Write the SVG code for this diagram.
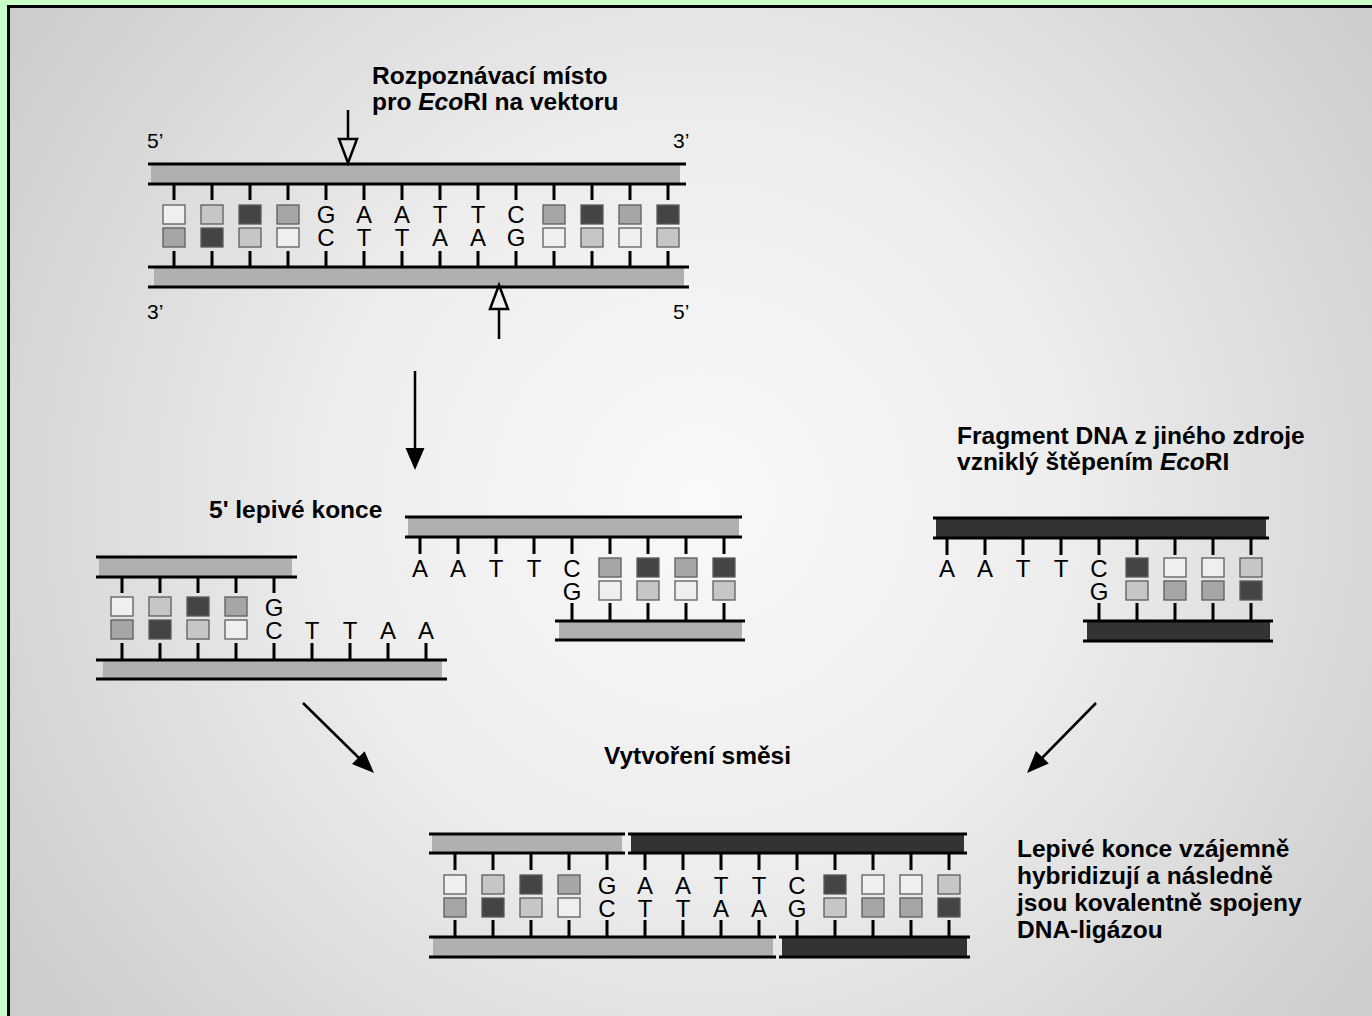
<svg xmlns="http://www.w3.org/2000/svg" width="1372" height="1016" viewBox="0 0 1372 1016">
  <defs>
    <radialGradient id="bg" gradientUnits="userSpaceOnUse" cx="700" cy="500" r="820">
      <stop offset="0" stop-color="#f9f9f9"/>
      <stop offset="0.45" stop-color="#ededed"/>
      <stop offset="1" stop-color="#cdcdcd"/>
    </radialGradient>
    <style>
      .ln { stroke: #000; stroke-width: 3; fill: none; }
      .tk { stroke: #000; stroke-width: 3; fill: none; }
      .bl { fill: #b0b0b0; }
      .bd { fill: #333333; }
      .sq { stroke: #5c5c5c; stroke-width: 1.3; }
      .w { fill: #efefef; }
      .l { fill: #c6c6c6; }
      .m { fill: #a6a6a6; }
      .d { fill: #444444; }
      .nt { font-family: "Liberation Sans", Arial, sans-serif; font-size: 24px; text-anchor: middle; fill: #000; }
      .end { font-family: "Liberation Sans", Arial, sans-serif; font-size: 21px; fill: #000; }
      .lbl { font-family: "Liberation Sans", Arial, sans-serif; font-size: 24.5px; font-weight: bold; fill: #000; }
      .arr { stroke: #000; stroke-width: 2.5; fill: none; }
      .head { fill: #000; stroke: none; }
      .hollow { stroke: #000; stroke-width: 2.5; fill: none; stroke-linejoin: miter; }
    </style>
  </defs>

  <!-- page background and frame -->
  <rect x="0" y="0" width="1372" height="1016" fill="#c8fec8"/>
  <rect x="8.5" y="6.5" width="1400" height="1050" fill="url(#bg)" stroke="#000" stroke-width="3"/>

  <!-- labels -->
  <g id="labels">
    <text class="lbl" x="372" y="84">Rozpoznávací místo</text>
    <text class="lbl" x="372" y="110">pro <tspan font-style="italic">Eco</tspan>RI na vektoru</text>
    <text class="lbl" x="209" y="518">5' lepivé konce</text>
    <text class="lbl" x="957" y="444">Fragment DNA z jiného zdroje</text>
    <text class="lbl" x="957" y="470">vzniklý štěpením <tspan font-style="italic">Eco</tspan>RI</text>
    <text class="lbl" x="604" y="764">Vytvoření směsi</text>
    <text class="lbl" x="1017" y="857">Lepivé konce vzájemně</text>
    <text class="lbl" x="1017" y="884">hybridizují a následně</text>
    <text class="lbl" x="1017" y="911">jsou kovalentně spojeny</text>
    <text class="lbl" x="1017" y="938">DNA-ligázou</text>
  </g>

  <!-- vector DNA with the EcoRI site -->
  <g id="vector">
    <text class="end" x="147" y="148">5’</text>
    <text class="end" x="673" y="148">3’</text>
    <text class="end" x="147" y="319">3’</text>
    <text class="end" x="673" y="319">5’</text>
    <rect class="bl" x="151" y="165" width="529" height="18"/>
    <path class="ln" d="M148,164H686M148,184H686"/>
    <rect class="bl" x="154" y="268" width="530" height="18"/>
    <path class="ln" d="M148,267H689M148,287H689"/>
    <path class="tk" d="M174,184V200M212,184V200M250,184V200M288,184V200M326,184V200M364,184V200M402,184V200M440,184V200M478,184V200M516,184V200M554,184V200M592,184V200M630,184V200M668,184V200"/>
    <path class="tk" d="M174,251V267M212,251V267M250,251V267M288,251V267M326,251V267M364,251V267M402,251V267M440,251V267M478,251V267M516,251V267M554,251V267M592,251V267M630,251V267M668,251V267"/>
    <rect class="sq w" x="163" y="205" width="22" height="19"/>
    <rect class="sq l" x="201" y="205" width="22" height="19"/>
    <rect class="sq d" x="239" y="205" width="22" height="19"/>
    <rect class="sq m" x="277" y="205" width="22" height="19"/>
    <rect class="sq m" x="543" y="205" width="22" height="19"/>
    <rect class="sq d" x="581" y="205" width="22" height="19"/>
    <rect class="sq m" x="619" y="205" width="22" height="19"/>
    <rect class="sq d" x="657" y="205" width="22" height="19"/>
    <rect class="sq m" x="163" y="228" width="22" height="19"/>
    <rect class="sq d" x="201" y="228" width="22" height="19"/>
    <rect class="sq l" x="239" y="228" width="22" height="19"/>
    <rect class="sq w" x="277" y="228" width="22" height="19"/>
    <rect class="sq w" x="543" y="228" width="22" height="19"/>
    <rect class="sq l" x="581" y="228" width="22" height="19"/>
    <rect class="sq w" x="619" y="228" width="22" height="19"/>
    <rect class="sq l" x="657" y="228" width="22" height="19"/>
    <text class="nt" x="326" y="223">G</text>
    <text class="nt" x="364" y="223">A</text>
    <text class="nt" x="402" y="223">A</text>
    <text class="nt" x="440" y="223">T</text>
    <text class="nt" x="478" y="223">T</text>
    <text class="nt" x="516" y="223">C</text>
    <text class="nt" x="326" y="246">C</text>
    <text class="nt" x="364" y="246">T</text>
    <text class="nt" x="402" y="246">T</text>
    <text class="nt" x="440" y="246">A</text>
    <text class="nt" x="478" y="246">A</text>
    <text class="nt" x="516" y="246">G</text>
  </g>

  <!-- left piece of the cut vector -->
  <g id="vector-left">
    <rect class="bl" x="99" y="558" width="193" height="18"/>
    <path class="ln" d="M96,557H297M96,577H297"/>
    <rect class="bl" x="103" y="661" width="339" height="17"/>
    <path class="ln" d="M96,660H447M96,679H447"/>
    <path class="tk" d="M122,577V593M160,577V593M198,577V593M236,577V593M274,577V593"/>
    <path class="tk" d="M122,643V660M160,643V660M198,643V660M236,643V660M274,643V660M312,643V660M350,643V660M388,643V660M426,643V660"/>
    <rect class="sq w" x="111" y="597" width="22" height="19"/>
    <rect class="sq l" x="149" y="597" width="22" height="19"/>
    <rect class="sq d" x="187" y="597" width="22" height="19"/>
    <rect class="sq m" x="225" y="597" width="22" height="19"/>
    <rect class="sq m" x="111" y="620" width="22" height="19"/>
    <rect class="sq d" x="149" y="620" width="22" height="19"/>
    <rect class="sq l" x="187" y="620" width="22" height="19"/>
    <rect class="sq w" x="225" y="620" width="22" height="19"/>
    <text class="nt" x="274" y="616">G</text>
    <text class="nt" x="274" y="639">C</text>
    <text class="nt" x="312" y="639">T</text>
    <text class="nt" x="350" y="639">T</text>
    <text class="nt" x="388" y="639">A</text>
    <text class="nt" x="426" y="639">A</text>
  </g>

  <!-- right piece of the cut vector -->
  <g id="vector-right">
    <rect class="bl" x="408" y="518" width="331" height="18"/>
    <path class="ln" d="M405,517H742M405,537H742"/>
    <rect class="bl" x="559" y="622" width="183" height="17"/>
    <path class="ln" d="M555,621H745M555,640H745"/>
    <path class="tk" d="M420,537V554M458,537V554M496,537V554M534,537V554M572,537V554M610,537V554M648,537V554M686,537V554M724,537V554"/>
    <path class="tk" d="M572,603V621M610,603V621M648,603V621M686,603V621M724,603V621"/>
    <rect class="sq m" x="599" y="558" width="22" height="19"/>
    <rect class="sq d" x="637" y="558" width="22" height="19"/>
    <rect class="sq m" x="675" y="558" width="22" height="19"/>
    <rect class="sq d" x="713" y="558" width="22" height="19"/>
    <rect class="sq w" x="599" y="581" width="22" height="19"/>
    <rect class="sq l" x="637" y="581" width="22" height="19"/>
    <rect class="sq w" x="675" y="581" width="22" height="19"/>
    <rect class="sq l" x="713" y="581" width="22" height="19"/>
    <text class="nt" x="420" y="577">A</text>
    <text class="nt" x="458" y="577">A</text>
    <text class="nt" x="496" y="577">T</text>
    <text class="nt" x="534" y="577">T</text>
    <text class="nt" x="572" y="577">C</text>
    <text class="nt" x="572" y="600">G</text>
  </g>

  <!-- foreign fragment with EcoRI ends -->
  <g id="insert">
    <rect class="bd" x="936" y="519" width="330" height="18"/>
    <path class="ln" d="M933,518H1269M933,538H1269"/>
    <rect class="bd" x="1087" y="622" width="183" height="18"/>
    <path class="ln" d="M1083,621H1273M1083,641H1273"/>
    <path class="tk" d="M947,538V555M985,538V555M1023,538V555M1061,538V555M1099,538V555M1137,538V555M1175,538V555M1213,538V555M1251,538V555"/>
    <path class="tk" d="M1099,603V621M1137,603V621M1175,603V621M1213,603V621M1251,603V621"/>
    <rect class="sq d" x="1126" y="558" width="22" height="19"/>
    <rect class="sq w" x="1164" y="558" width="22" height="19"/>
    <rect class="sq w" x="1202" y="558" width="22" height="19"/>
    <rect class="sq l" x="1240" y="558" width="22" height="19"/>
    <rect class="sq l" x="1126" y="581" width="22" height="19"/>
    <rect class="sq m" x="1164" y="581" width="22" height="19"/>
    <rect class="sq m" x="1202" y="581" width="22" height="19"/>
    <rect class="sq d" x="1240" y="581" width="22" height="19"/>
    <text class="nt" x="947" y="577">A</text>
    <text class="nt" x="985" y="577">A</text>
    <text class="nt" x="1023" y="577">T</text>
    <text class="nt" x="1061" y="577">T</text>
    <text class="nt" x="1099" y="577">C</text>
    <text class="nt" x="1099" y="600">G</text>
  </g>

  <!-- ligated product -->
  <g id="recombinant">
    <rect class="bl" x="432" y="835" width="190" height="17"/>
    <rect class="bd" x="631" y="835" width="333" height="17"/>
    <path class="ln" d="M429,834H625M429,853H625M628,834H967M628,853H967"/>
    <rect class="bl" x="433" y="938" width="340" height="18"/>
    <rect class="bd" x="782" y="938" width="185" height="18"/>
    <path class="ln" d="M429,937H776M429,957H776M779,937H970M779,957H970"/>
    <path class="tk" d="M455,853V870M493,853V870M531,853V870M569,853V870M607,853V870M645,853V870M683,853V870M721,853V870M759,853V870M797,853V870M835,853V870M873,853V870M911,853V870M949,853V870"/>
    <path class="tk" d="M455,920V937M493,920V937M531,920V937M569,920V937M607,920V937M645,920V937M683,920V937M721,920V937M759,920V937M797,920V937M835,920V937M873,920V937M911,920V937M949,920V937"/>
    <rect class="sq w" x="444" y="875" width="22" height="19"/>
    <rect class="sq l" x="482" y="875" width="22" height="19"/>
    <rect class="sq d" x="520" y="875" width="22" height="19"/>
    <rect class="sq m" x="558" y="875" width="22" height="19"/>
    <rect class="sq d" x="824" y="875" width="22" height="19"/>
    <rect class="sq w" x="862" y="875" width="22" height="19"/>
    <rect class="sq w" x="900" y="875" width="22" height="19"/>
    <rect class="sq l" x="938" y="875" width="22" height="19"/>
    <rect class="sq m" x="444" y="898" width="22" height="19"/>
    <rect class="sq d" x="482" y="898" width="22" height="19"/>
    <rect class="sq l" x="520" y="898" width="22" height="19"/>
    <rect class="sq w" x="558" y="898" width="22" height="19"/>
    <rect class="sq l" x="824" y="898" width="22" height="19"/>
    <rect class="sq m" x="862" y="898" width="22" height="19"/>
    <rect class="sq m" x="900" y="898" width="22" height="19"/>
    <rect class="sq d" x="938" y="898" width="22" height="19"/>
    <text class="nt" x="607" y="894">G</text>
    <text class="nt" x="645" y="894">A</text>
    <text class="nt" x="683" y="894">A</text>
    <text class="nt" x="721" y="894">T</text>
    <text class="nt" x="759" y="894">T</text>
    <text class="nt" x="797" y="894">C</text>
    <text class="nt" x="607" y="917">C</text>
    <text class="nt" x="645" y="917">T</text>
    <text class="nt" x="683" y="917">T</text>
    <text class="nt" x="721" y="917">A</text>
    <text class="nt" x="759" y="917">A</text>
    <text class="nt" x="797" y="917">G</text>
  </g>

  <!-- arrows -->
  <g id="connectors">
    <!-- cut positions on both strands -->
    <path class="arr" d="M348,110V139"/>
    <polygon class="hollow" points="339,139 357,139 348,163"/>
    <path class="arr" d="M499,309V339"/>
    <polygon class="hollow" points="490,309 508,309 499,285"/>
    <!-- digestion -->
    <path class="arr" d="M415,371V450"/>
    <polygon class="head" points="405.5,448 424.5,448 415,470"/>
    <!-- mixing -->
    <path class="arr" d="M303,703L360,759"/>
    <polygon class="head" points="352,764 364.6,751.2 374,773"/>
    <path class="arr" d="M1096,703L1041,759"/>
    <polygon class="head" points="1048.8,763.6 1036,751 1027,773"/>
  </g>
</svg>
